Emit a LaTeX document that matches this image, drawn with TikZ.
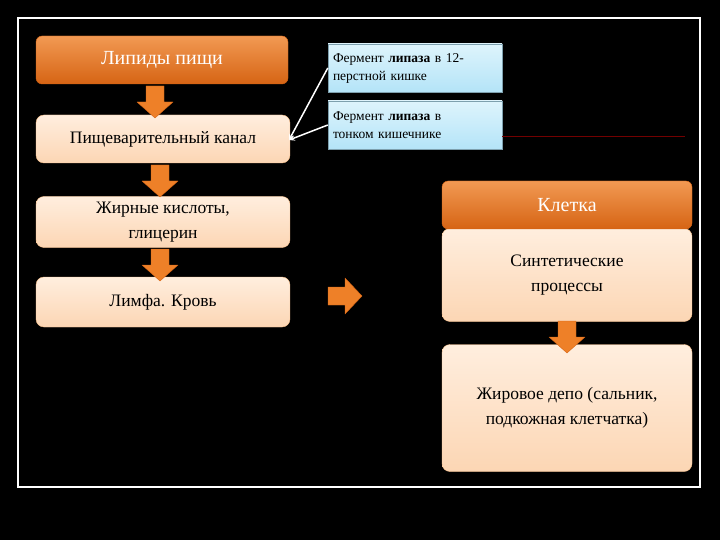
\documentclass[tikz,border=0pt]{standalone}
\usepackage{fontspec}
\setmainfont{Liberation Serif}
\definecolor{org}{RGB}{238,128,40}
\definecolor{orgd}{RGB}{214,100,20}
\definecolor{peach}{RGB}{252,214,180}
\definecolor{peachl}{RGB}{255,238,222}
\definecolor{blu}{RGB}{180,228,248}
\definecolor{blul}{RGB}{222,244,252}
\tikzset{
 obox/.style={rounded corners=6pt,top color=org!80!white,bottom color=orgd,draw=orgd,text=white,font=\fontsize{20}{24}\selectfont,align=center,minimum height=48pt,inner sep=0pt},
 pbox/.style={rounded corners=8pt,top color=peachl,bottom color=peach,draw=peach!80!orange,text=black,font=\fontsize{17.5}{25}\selectfont,align=center,inner sep=0pt},
 bbox/.style={top color=blul,bottom color=blu,draw=blu!70!black,text=black,font=\fontsize{13.5}{18}\selectfont,align=left,text width=164pt,minimum height=48pt,minimum width=174pt,inner sep=5pt},
 blockarr/.style={fill=org,draw=orgd,line join=round},
}
\newcommand{\darrow}[1]{\draw[blockarr] ($(#1)+(-9,-16)$) -- ++(18,0) -- ++(0,16) -- ++(9,0) -- ($(#1)+(0,16)$) -- ($(#1)+(-18,0)$) -- ++(9,0) -- cycle;}
\usetikzlibrary{calc}
\begin{document}
\begin{tikzpicture}[x=1pt,y=-1pt]
\fill[black] (0,0) rectangle (720,540);
\useasboundingbox (0,0) rectangle (720,540);
\draw[white,line width=2.5pt] (18,18) rectangle (700,487);
\node[obox,minimum width=252pt] (b1) at (162,60) {Липиды пищи};
\node[pbox,minimum width=254pt,minimum height=48pt] (b2) at (163,139) {Пищеварительный канал};
\node[pbox,minimum width=254pt,minimum height=51pt] (b3) at (163,222) {Жирные кислоты,\\глицерин};
\node[pbox,minimum width=254pt,minimum height=50pt] (b4) at (163,302) {Лимфа. Кровь};
\coordinate (a1) at (155,102); \darrow{a1}
\coordinate (a2) at (160,181); \darrow{a2}
\coordinate (a3) at (160,265); \darrow{a3}
\coordinate (a4) at (345,296);
\draw[blockarr] ($(a4)+(-17,-9)$) -- ++(17,0) -- ++(0,-9) -- ($(a4)+(17,0)$) -- ($(a4)+(0,18)$) -- ++(0,-9) -- ++(-17,0) -- cycle;
\node[bbox] (c1) at (415,68) {Фермент \textbf{липаза} в 12-\\перстной кишке};
\node[bbox] (c2) at (415,125) {Фермент \textbf{липаза} в\\тонком кишечнике};
\coordinate (t) at (289,140);
\draw[white,line width=1.5pt,-stealth] (c1.west) -- (t);
\draw[white,line width=1.5pt,-stealth] (c2.west) -- (t);
\coordinate (le) at (685,136);
\draw[red!45!black,line width=0.8pt] (c2.east |- le) -- (le);
\node[pbox,minimum width=250pt,minimum height=93pt] (r1) at (567,275) {Синтетические\\процессы};
\node[obox,minimum width=250pt] (r0) at (567,205) {Клетка};
\node[pbox,minimum width=250pt,minimum height=127pt] (r2) at (567,408) {Жировое депо (сальник,\\подкожная клетчатка)};
\coordinate (a5) at (567,337); \darrow{a5}
\end{tikzpicture}
\end{document}
